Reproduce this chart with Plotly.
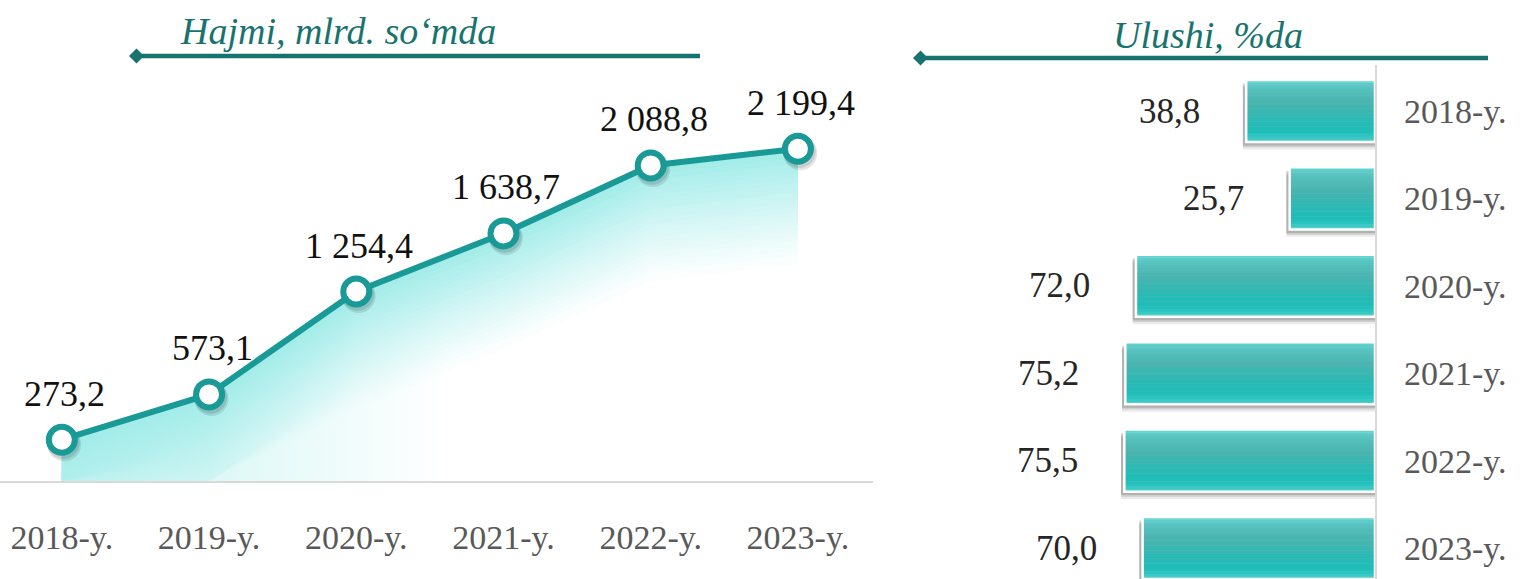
import plotly.graph_objects as go

# ---------------- data ----------------
years = ["2018-y.", "2019-y.", "2020-y.", "2021-y.", "2022-y.", "2023-y."]
volume = [273.2, 573.1, 1254.4, 1638.7, 2088.8, 2199.4]   # Hajmi, mlrd. so'mda
share = [38.8, 25.7, 72.0, 75.2, 75.5, 70.0]               # Ulushi, %da
title_left = "Hajmi, mlrd. so‘mda"
title_right = "Ulushi, %da"

W, H = 1525, 579
SERIF = "Liberation Serif, Times New Roman, serif"
TEAL_LINE = "#1a9a96"
TEAL_DARK = "#17736f"


def fmt(v):
    s = f"{v:,.1f}"
    return s.replace(",", " ").replace(".", ",")


def lerp(c1, c2, t):
    return tuple(round(a + (b - a) * t) for a, b in zip(c1, c2))


def rgb(c):
    return f"rgb({c[0]},{c[1]},{c[2]})"


fig = go.Figure()

# ---------------- left: area fill (stacked opaque bands, no seams) ----------------
xi = list(range(len(years)))
N = 24
step = 32.0
near = (162, 236, 233)
base_left = (198, 243, 241)
white = (255, 255, 255)
for k in range(N + 1):
    yk = [max(v - k * step, 0) for v in volume]
    a = max(0.0, 1 - k / N) ** 1.1
    cL = rgb(lerp(base_left, near, a))
    cR = rgb(lerp(white, near, a))
    fig.add_trace(go.Scatter(
        x=xi, y=yk, mode="lines", line=dict(width=0), fill="tozeroy",
        fillgradient=dict(type="horizontal", start=0, stop=2.6,
                          colorscale=[[0, cL], [1, cR]]),
        hoverinfo="skip", xaxis="x", yaxis="y"))

# soft marker shadows
fig.add_trace(go.Scatter(
    x=[i + 0.016 for i in xi], y=[v - 30 for v in volume], mode="markers",
    marker=dict(size=34, color="rgba(0,0,0,0.10)", line=dict(width=0)),
    xaxis="x", yaxis="y", hoverinfo="skip"))
fig.add_trace(go.Scatter(
    x=[i + 0.01 for i in xi], y=[v - 18 for v in volume], mode="markers",
    marker=dict(size=33, color="rgba(0,0,0,0.10)", line=dict(width=0)),
    xaxis="x", yaxis="y", hoverinfo="skip"))

# main line
fig.add_trace(go.Scatter(
    x=xi, y=volume, mode="lines+markers",
    line=dict(color=TEAL_LINE, width=6),
    marker=dict(size=26, color="white", line=dict(color=TEAL_LINE, width=6)),
    xaxis="x", yaxis="y", hoverinfo="skip"))

annotations = []
for i, v in enumerate(volume):
    annotations.append(dict(x=i, y=v, xref="x", yref="y", text=fmt(v),
                            showarrow=False, yanchor="bottom", yshift=24, xshift=3,
                            font=dict(family=SERIF, size=36, color="#111111")))

# ---------------- right: bars ----------------
BW = 0.71
# shadows
for off, a in [(0.085, 0.08), (0.06, 0.12), (0.04, 0.14)]:
    fig.add_trace(go.Bar(orientation="h", x=[s + 1.0 for s in share], y=years,
                         width=BW, offset=-BW / 2 + off,
                         marker=dict(color=f"rgba(0,0,0,{a})", line=dict(width=0)),
                         xaxis="x2", yaxis="y2", hoverinfo="skip"))

stops = [(0.0, (98, 214, 210)), (0.12, (86, 196, 192)), (0.35, (74, 180, 175)),
         (0.65, (40, 186, 181)), (0.82, (30, 189, 184)), (0.92, (45, 198, 194)),
         (1.0, (88, 212, 208))]


def grad(t):
    for (t0, c0), (t1, c1) in zip(stops[:-1], stops[1:]):
        if t0 <= t <= t1:
            return lerp(c0, c1, (t - t0) / (t1 - t0))
    return stops[-1][1]


M = 24
h = BW / M
for j in range(M):
    col = rgb(grad((j + 0.5) / M))
    fig.add_trace(go.Bar(orientation="h", x=share, y=years,
                         width=h + 0.003, offset=-BW / 2 + j * h,
                         marker=dict(color=col, line=dict(width=0)),
                         xaxis="x2", yaxis="y2", hoverinfo="skip"))
# white outline
fig.add_trace(go.Bar(orientation="h", x=share, y=years, width=BW, offset=-BW / 2,
                     marker=dict(color="rgba(0,0,0,0)", line=dict(color="white", width=2.5)),
                     xaxis="x2", yaxis="y2", hoverinfo="skip"))

for yv, s in zip(years, share):
    annotations.append(dict(x=s, y=yv, xref="x2", yref="y2", text=fmt(s),
                            showarrow=False, xanchor="right", yanchor="middle",
                            xshift=-44, font=dict(family=SERIF, size=35, color="#262626")))

# ---------------- titles ----------------
annotations.append(dict(x=338 / W, y=1 - 31 / H, xref="paper", yref="paper",
                        text=f"<i>{title_left}</i>", showarrow=False,
                        xanchor="center", yanchor="middle",
                        font=dict(family=SERIF, size=38, color=TEAL_DARK)))
annotations.append(dict(x=1208 / W, y=1 - 35 / H, xref="paper", yref="paper",
                        text=f"<i>{title_right}</i>", showarrow=False,
                        xanchor="center", yanchor="middle",
                        font=dict(family=SERIF, size=38, color=TEAL_DARK)))


def px(xp):
    return xp / W


def py(yp):
    return 1 - yp / H


def diamond(cx, cy, r=7.5):
    return (f"M {px(cx - r)},{py(cy)} L {px(cx)},{py(cy - r)} "
            f"L {px(cx + r)},{py(cy)} L {px(cx)},{py(cy + r)} Z")


shapes = [
    dict(type="line", xref="paper", yref="paper", x0=px(138), x1=px(700),
         y0=py(56), y1=py(56), line=dict(color=TEAL_DARK, width=4.5)),
    dict(type="path", xref="paper", yref="paper", path=diamond(136.5, 56),
         fillcolor=TEAL_DARK, line=dict(width=0)),
    dict(type="line", xref="paper", yref="paper", x0=px(919), x1=px(1488),
         y0=py(58), y1=py(58), line=dict(color=TEAL_DARK, width=4.5)),
    dict(type="path", xref="paper", yref="paper", path=diamond(920.5, 58),
         fillcolor=TEAL_DARK, line=dict(width=0)),
    dict(type="line", xref="paper", yref="paper", x0=px(1376), x1=px(1376),
         y0=0, y1=py(65), line=dict(color="#d9d9d9", width=2)),
]

ppu = 0.15107           # pixels per unit on left value axis
x2ppu = 3.32            # pixels per percent on right axis
row0, rowstep = 111.0, 87.4

fig.update_layout(
    width=W, height=H,
    margin=dict(l=0, r=0, t=0, b=0),
    paper_bgcolor="white", plot_bgcolor="rgba(0,0,0,0)",
    showlegend=False, barmode="overlay",
    annotations=annotations, shapes=shapes,
    xaxis=dict(domain=[0, 873 / W], range=[-0.42, 5.51], tickmode="array",
               tickvals=xi, ticktext=years, showgrid=False, zeroline=False,
               showline=True, linecolor="#d9d9d9", linewidth=2, ticks="",
               ticklabelstandoff=25,
               tickfont=dict(family=SERIF, size=34, color="#595959"),
               anchor="y", fixedrange=True),
    yaxis=dict(domain=[(H - 481) / H, 1], range=[0, 481 / ppu], visible=False,
               showgrid=False, zeroline=False, anchor="x", fixedrange=True),
    xaxis2=dict(domain=[900 / W, 1375 / W], range=[(1375 - 900) / x2ppu, 0],
                visible=False, showgrid=False, zeroline=False, anchor="y2",
                fixedrange=True),
    yaxis2=dict(domain=[0, 1], type="category", categoryorder="array",
                categoryarray=years,
                range=[(H - row0) / rowstep, -row0 / rowstep],
                side="right", anchor="x2", showgrid=False, zeroline=False,
                showline=False, ticks="", ticklabelstandoff=28,
                tickfont=dict(family=SERIF, size=34, color="#595959"),
                fixedrange=True),
)

fig.write_html("out.html", config={"displayModeBar": False},
               post_script="document.body.style.margin='0';document.body.style.overflow='hidden';")
